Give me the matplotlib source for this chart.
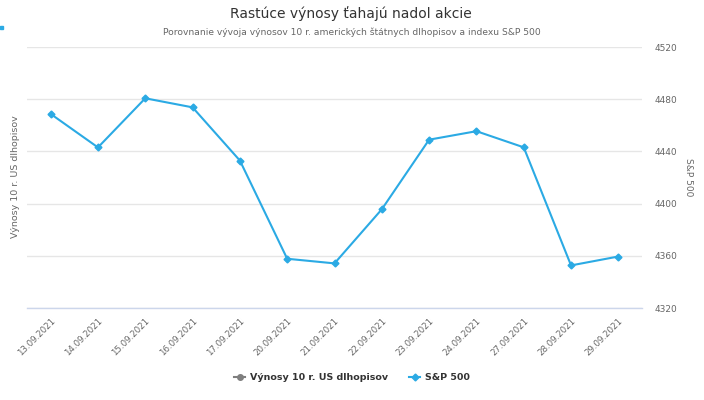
import matplotlib
matplotlib.use("Agg")
import matplotlib.pyplot as plt
from matplotlib.lines import Line2D

dates = ["13.09.2021", "14.09.2021", "15.09.2021", "16.09.2021", "17.09.2021",
         "20.09.2021", "21.09.2021", "22.09.2021", "23.09.2021", "24.09.2021",
         "27.09.2021", "28.09.2021", "29.09.2021"]
sp500 = [4468.73, 4443.05, 4480.70, 4473.75, 4432.99, 4357.73, 4354.19,
         4395.64, 4448.98, 4455.48, 4443.11, 4352.63, 4359.46]
yticks = [4320, 4360, 4400, 4440, 4480, 4520]

title = "Rastúce výnosy ťahajú nadol akcie"
subtitle = "Porovnanie vývoja výnosov 10 r. amerických štátnych dlhopisov a indexu S&P 500"
left_label = "Výnosy 10 r. US dlhopisov"
right_label = "S&P 500"
series_names = ["Výnosy 10 r. US dlhopisov", "S&P 500"]

plt.rcParams['font.family'] = ['DejaVu Sans']

W, H = 704, 400
fig = plt.figure(figsize=(W / 100, H / 100), dpi=100)
ax = fig.add_axes([27 / W, 1 - 308 / H, (642 - 27) / W, (308 - 47) / H])

blue = "#2baae4"
x = list(range(len(dates)))
ax.plot(x, sp500, color=blue, lw=1.5, marker="D", ms=3.5, zorder=3)

ax.set_xlim(-0.5, len(dates) - 0.5)
ax.set_ylim(yticks[0], yticks[-1])
ax.set_yticks(yticks)
ax.yaxis.tick_right()
ax.tick_params(axis="y", length=0, pad=9, labelsize=6.5, labelcolor="#666666")
ax.grid(axis="y", color="#e6e6e6", lw=1)
ax.set_axisbelow(True)
for s in ["top", "left", "right"]:
    ax.spines[s].set_visible(False)
ax.spines["bottom"].set_color("#ccd6eb")
ax.spines["bottom"].set_linewidth(1)

ax.set_xticks(x)
ax.set_xticklabels(dates, rotation=45, ha="right", va="top", rotation_mode="anchor",
                   fontsize=6.2, color="#666666")
ax.tick_params(axis="x", length=0, pad=6)

fig.text(688 / W, 1 - 177 / H, right_label, rotation=270, ha="center", va="center",
         fontsize=6.5, color="#666666")
fig.text(16 / W, 1 - 177 / H, left_label, rotation=90, ha="center", va="center",
         fontsize=6.8, color="#666666")

fig.text(351 / W, 1 - 14 / H, title, ha="center", va="center", fontsize=10, color="#333333")
fig.text(352 / W, 1 - 32 / H, subtitle, ha="center", va="center", fontsize=6.6, color="#666666")

# small dot at top-left
fig.patches.append(plt.Rectangle((0 / W, 1 - 29 / H), 3 / W, 3 / H, transform=fig.transFigure,
                                 color=blue, figure=fig))

handles = [Line2D([0], [0], color="#7f7f7f", marker="o", ms=4, lw=1.5),
           Line2D([0], [0], color=blue, marker="D", ms=3.5, lw=1.5)]
fig.legend(handles, series_names, loc="center", bbox_to_anchor=(352 / W, 1 - 378 / H),
           ncol=2, frameon=False, handlelength=1.2, handletextpad=0.5, columnspacing=2.2,
           prop={"size": 6.8, "weight": "bold"}, labelcolor="#333333")

fig.savefig("out.png", dpi=100)
